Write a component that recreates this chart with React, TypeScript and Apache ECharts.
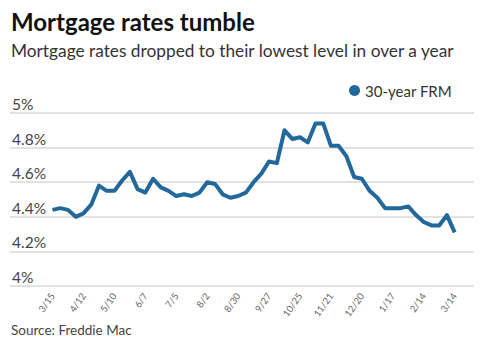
import React, { useEffect, useRef } from "react";
import * as echarts from "echarts";

const dates: string[] = [
  "3/15", "3/22", "3/29", "4/5", "4/12", "4/19", "4/26", "5/3", "5/10", "5/17", "5/24", "5/31",
  "6/7", "6/14", "6/21", "6/28", "7/5", "7/12", "7/19", "7/26", "8/2", "8/9", "8/16", "8/23",
  "8/30", "9/6", "9/13", "9/20", "9/27", "10/4", "10/11", "10/18", "10/25", "11/1", "11/8", "11/15",
  "11/21", "11/29", "12/6", "12/13", "12/20", "12/27", "1/3", "1/10", "1/17", "1/24", "1/31", "2/7",
  "2/14", "2/21", "2/28", "3/7", "3/14",
];

const rates: number[] = [
  4.44, 4.45, 4.44, 4.40, 4.42, 4.47, 4.58, 4.55, 4.55, 4.61, 4.66, 4.56,
  4.54, 4.62, 4.57, 4.55, 4.52, 4.53, 4.52, 4.54, 4.60, 4.59, 4.53, 4.51,
  4.52, 4.54, 4.60, 4.65, 4.72, 4.71, 4.90, 4.85, 4.86, 4.83, 4.94, 4.94,
  4.81, 4.81, 4.75, 4.63, 4.62, 4.55, 4.51, 4.45, 4.45, 4.45, 4.46, 4.41,
  4.37, 4.35, 4.35, 4.41, 4.31,
];

const padBefore: string[] = ["p0", "p1", "p2", "p3", "p4"];
const padAfter: string[] = ["p5", "p6"];

const seriesName = "30-year FRM";
const titleText = "Mortgage rates tumble";
const subtitleText = "Mortgage rates dropped to their lowest level in over a year";
const sourceText = "Source: Freddie Mac";

const FONT = "Lato, 'Noto Sans', sans-serif";
const BLUE = "#22689b";

export default function App() {
  const ref = useRef<HTMLDivElement>(null);
  useEffect(() => {
    if (!ref.current) return;
    const chart = echarts.init(ref.current, undefined, { renderer: "svg" });
    const categories = [...padBefore, ...dates, ...padAfter];
    const data = [
      ...padBefore.map(() => null),
      ...rates,
      ...padAfter.map(() => null),
    ];
    const first = padBefore.length;
    chart.setOption({
      animation: false,
      backgroundColor: "#ffffff",
      title: [
        {
          text: titleText,
          left: 6,
          top: 4,
          textStyle: { fontFamily: FONT, fontSize: 24, fontWeight: "bold", color: "#111" },
        },
        {
          text: subtitleText,
          left: 6,
          top: 37,
          textStyle: { fontFamily: FONT, fontSize: 17.3, fontWeight: "normal", color: "#333" },
        },
        {
          text: sourceText,
          left: 6,
          top: 318,
          textStyle: { fontFamily: FONT, fontSize: 13.5, fontWeight: "normal", color: "#444" },
        },
      ],
      legend: {
        data: [{ name: seriesName, icon: "circle" }],
        right: 40,
        top: 78,
        itemWidth: 11,
        itemHeight: 11,
        itemGap: 6,
        textStyle: { fontFamily: FONT, fontSize: 15, color: "#333" },
      },
      grid: { left: 10, right: 23, top: 113, bottom: 65, containLabel: false },
      xAxis: {
        type: "category",
        data: categories,
        boundaryGap: true,
        axisLine: { show: false },
        axisTick: { show: false },
        axisLabel: {
          interval: (index: number) => index >= first && index < first + dates.length && (index - first) % 4 === 0,
          rotate: 55,
          margin: 8,
          fontFamily: FONT,
          fontSize: 9.5,
          color: "#666",
        },
      },
      yAxis: {
        type: "value",
        min: 4,
        max: 5,
        interval: 0.2,
        axisLine: { show: false },
        axisTick: { show: false },
        splitLine: { lineStyle: { color: "#d9d9d9", width: 1.5 } },
        axisLabel: {
          inside: true,
          margin: 2,
          verticalAlign: "bottom",
          padding: [0, 0, 1, 0],
          fontFamily: FONT,
          fontSize: 15.5,
          color: "#444",
          formatter: (v: number) => `${Number(v.toFixed(1))}%`,
        },
      },
      series: [
        {
          name: seriesName,
          type: "line",
          data,
          symbol: "none",
          connectNulls: false,
          color: BLUE,
          lineStyle: { color: BLUE, width: 4, join: "round" },
          z: 3,
        },
      ],
    });
    return () => chart.dispose();
  }, []);
  return (
    <div
      ref={ref}
      style={{ position: "absolute", left: 0, top: 0, width: 497, height: 351 }}
    />
  );
}
